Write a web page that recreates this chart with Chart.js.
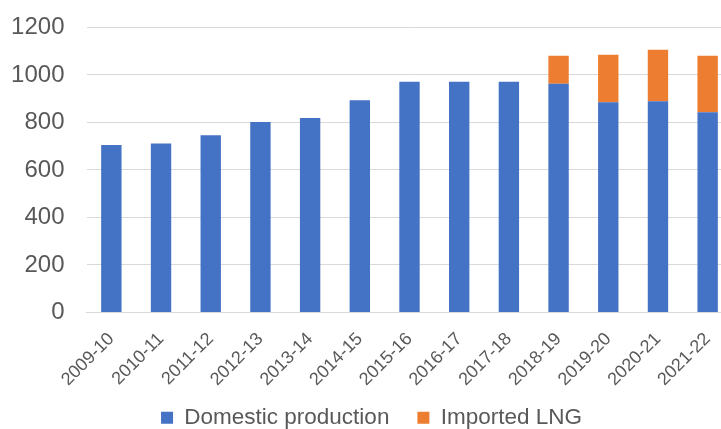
<!DOCTYPE html>
<html>
<head>
<meta charset="utf-8">
<script src="https://cdn.jsdelivr.net/npm/chart.js@4"></script>
<style>
  html, body { margin: 0; padding: 0; background: #fff; overflow: hidden; }
  #wrap { width: 750px; height: 450px; margin-top: -9px; }
</style>
</head>
<body>
<div id="wrap"><canvas id="chart"></canvas></div>
<script>
const years = ["2009-10", "2010-11", "2011-12", "2012-13", "2013-14", "2014-15", "2015-16",
  "2016-17", "2017-18", "2018-19", "2019-20", "2020-21", "2021-22"];
const domestic = [705, 711, 746, 802, 819, 893, 971, 971, 971, 963, 885, 889, 843];
const imported = [0, 0, 0, 0, 0, 0, 0, 0, 0, 118, 200, 217, 238];
const yTicks = [0, 200, 400, 600, 800, 1000, 1200];

const textColor = "#595959";
const gridColor = "#d9d9d9";
const fontFamily = "'Liberation Sans', Arial, sans-serif";

// x labels are allowed to run into the legend area, like in the original
const unclipXLabels = {
  id: "unclipXLabels",
  afterLayout(chart) {
    chart.scales.x.bottom = chart.height;
  }
};

new Chart(document.getElementById("chart").getContext("2d"), {
  type: "bar",
  data: {
    labels: years,
    datasets: [
      {
        label: "Domestic production",
        data: domestic,
        backgroundColor: "#4472C4",
        barPercentage: 0.41,
        categoryPercentage: 1
      },
      {
        label: "Imported LNG",
        data: imported,
        backgroundColor: "#ED7D31",
        barPercentage: 0.41,
        categoryPercentage: 1
      }
    ]
  },
  plugins: [unclipXLabels],
  options: {
    responsive: true,
    maintainAspectRatio: false,
    animation: false,
    layout: {
      padding: { top: 6, left: 10.5, right: 17.5, bottom: 2 }
    },
    plugins: {
      tooltip: { enabled: false },
      legend: {
        position: "bottom",
        labels: {
          color: textColor,
          font: { family: fontFamily, size: 22.5 },
          boxWidth: 12,
          boxHeight: 12,
          padding: 28
        }
      }
    },
    scales: {
      x: {
        stacked: true,
        grid: { display: false },
        border: { color: gridColor },
        ticks: {
          color: textColor,
          font: { family: fontFamily, size: 18 },
          minRotation: 45,
          maxRotation: 45,
          padding: 8
        },
        afterFit: function(axis) {
          axis.paddingLeft = 0;
          axis.height = 66;
        }
      },
      y: {
        stacked: true,
        min: 0,
        max: 1200,
        afterBuildTicks: function(axis) {
          axis.ticks = yTicks.map(v => ({ value: v }));
        },
        afterFit: function(axis) {
          axis.width = 76;
        },
        grid: { color: gridColor, drawTicks: false },
        border: { display: false },
        ticks: {
          color: textColor,
          font: { family: fontFamily, size: 24 },
          padding: 22,
          callback: v => String(v)
        }
      }
    }
  }
});
</script>
</body>
</html>
